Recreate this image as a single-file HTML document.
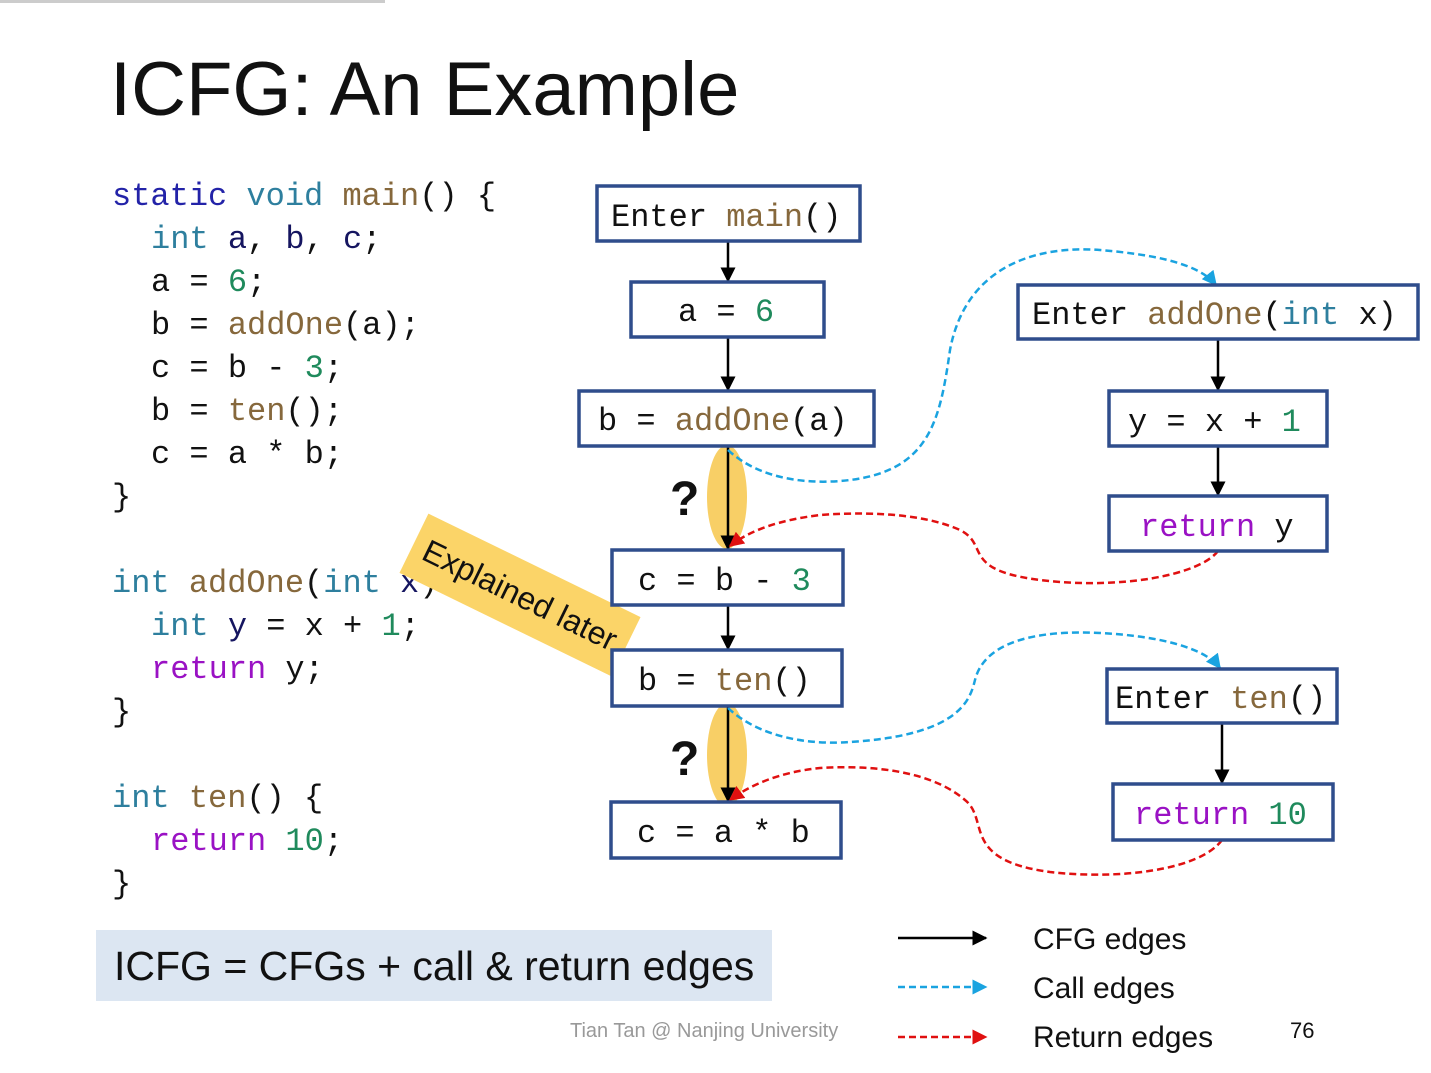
<!DOCTYPE html>
<html><head><meta charset="utf-8"><style>
body{margin:0;background:#fff}
svg{display:block}
.m{font-family:"Liberation Mono","DejaVu Sans Mono",monospace;font-size:32px;fill:#111;white-space:pre}
.kb{fill:#2323a8}.kt{fill:#2e7f9e}.fn{fill:#86683c}.v{fill:#151560}.n{fill:#1f8a5c}.r{fill:#9a12c4}
.s{font-family:"Liberation Sans","DejaVu Sans",sans-serif}
.box{fill:#fff;stroke:#2f4d8c;stroke-width:3.5}
</style></head><body>
<svg width="1431" height="1073" viewBox="0 0 1431 1073" xmlns="http://www.w3.org/2000/svg">
<defs>
<marker id="ak" viewBox="0 0 10 10" refX="9" refY="5" markerWidth="6" markerHeight="6" orient="auto"><path d="M0,0L10,5L0,10z" fill="#000"/></marker>
<marker id="ab" viewBox="0 0 10 10" refX="9" refY="5" markerWidth="6" markerHeight="6" orient="auto"><path d="M0,0L10,5L0,10z" fill="#1aa3e0"/></marker>
<marker id="ar" viewBox="0 0 10 10" refX="9" refY="5" markerWidth="6" markerHeight="6" orient="auto"><path d="M0,0L10,5L0,10z" fill="#e01010"/></marker>
</defs>
<rect x="0" y="0" width="385" height="3" fill="#ccc"/>
<text x="110" y="115" class="s" font-size="76" fill="#111">ICFG: An Example</text>

<g class="m">
<text x="112" y="205"><tspan class="kb">static</tspan> <tspan class="kt">void</tspan> <tspan class="fn">main</tspan>() {</text>
<text x="151" y="248"><tspan class="kt">int</tspan> <tspan class="v">a</tspan>, <tspan class="v">b</tspan>, <tspan class="v">c</tspan>;</text>
<text x="151" y="291">a = <tspan class="n">6</tspan>;</text>
<text x="151" y="334">b = <tspan class="fn">addOne</tspan>(a);</text>
<text x="151" y="377">c = b - <tspan class="n">3</tspan>;</text>
<text x="151" y="420">b = <tspan class="fn">ten</tspan>();</text>
<text x="151" y="463">c = a * b;</text>
<text x="112" y="506">}</text>
<text x="112" y="592"><tspan class="kt">int</tspan> <tspan class="fn">addOne</tspan>(<tspan class="kt">int</tspan> <tspan class="v">x</tspan>) {</text>
<text x="151" y="635"><tspan class="kt">int</tspan> <tspan class="v">y</tspan> = x + <tspan class="n">1</tspan>;</text>
<text x="151" y="678"><tspan class="r">return</tspan> y;</text>
<text x="112" y="721">}</text>
<text x="112" y="807"><tspan class="kt">int</tspan> <tspan class="fn">ten</tspan>() {</text>
<text x="151" y="850"><tspan class="r">return</tspan> <tspan class="n">10</tspan>;</text>
<text x="112" y="893">}</text>
</g>

<g transform="translate(520,595) rotate(26)">
<rect x="-118" y="-33" width="236" height="66" fill="#fbd468"/>
<text x="0" y="11" text-anchor="middle" class="s" font-size="32" fill="#111">Explained later</text>
</g>

<ellipse cx="727" cy="497" rx="20" ry="52" fill="#f8cf66"/>
<ellipse cx="727" cy="755" rx="20" ry="52" fill="#f8cf66"/>
<text x="670" y="515" class="s" font-size="48" font-weight="bold" fill="#111">?</text>
<text x="670" y="775" class="s" font-size="48" font-weight="bold" fill="#111">?</text>

<g stroke="#000" stroke-width="2.5" marker-end="url(#ak)">
<line x1="728" y1="241" x2="728" y2="281"/>
<line x1="728" y1="337" x2="728" y2="390"/>
<line x1="728" y1="446" x2="728" y2="549"/>
<line x1="728" y1="605" x2="728" y2="649"/>
<line x1="728" y1="706" x2="728" y2="801"/>
<line x1="1218" y1="339" x2="1218" y2="390"/>
<line x1="1218" y1="446" x2="1218" y2="495"/>
<line x1="1222" y1="723" x2="1222" y2="783"/>
</g>
<g fill="none" stroke-width="2.5" stroke-dasharray="7,4">
<path d="M728,450 C760,480 810,485 850,480 C930,470 940,420 950,350 C965,270 1030,245 1100,250 C1160,255 1200,265 1216,285" stroke="#1aa3e0" marker-end="url(#ab)"/>
<path d="M1218,551 C1200,575 1120,590 1040,580 C960,570 990,545 960,530 C920,512 860,512 820,515 C780,520 750,530 730,546" stroke="#e01010" marker-end="url(#ar)"/>
<path d="M728,708 C760,738 810,745 850,742 C960,735 970,700 975,680 C985,640 1040,630 1100,633 C1160,636 1205,648 1220,668" stroke="#1aa3e0" marker-end="url(#ab)"/>
<path d="M1222,840 C1200,870 1120,880 1050,872 C960,860 990,820 965,800 C930,770 870,765 820,768 C780,772 750,785 730,800" stroke="#e01010" marker-end="url(#ar)"/>
</g>

<g class="m">
<rect class="box" x="597" y="186" width="263" height="55"/>
<text x="611" y="226">Enter <tspan class="fn">main</tspan>()</text>
<rect class="box" x="631" y="282" width="193" height="55"/>
<text x="678" y="321">a = <tspan class="n">6</tspan></text>
<rect class="box" x="579" y="391" width="295" height="55"/>
<text x="598" y="430">b = <tspan class="fn">addOne</tspan>(a)</text>
<rect class="box" x="612" y="550" width="231" height="55"/>
<text x="638" y="590">c = b - <tspan class="n">3</tspan></text>
<rect class="box" x="612" y="650" width="230" height="56"/>
<text x="638" y="690">b = <tspan class="fn">ten</tspan>()</text>
<rect class="box" x="611" y="802" width="230" height="56"/>
<text x="637" y="842">c = a * b</text>
<rect class="box" x="1018" y="285" width="400" height="54"/>
<text x="1032" y="324">Enter <tspan class="fn">addOne</tspan>(<tspan class="kt">int</tspan> x)</text>
<rect class="box" x="1109" y="391" width="218" height="55"/>
<text x="1128" y="431">y = x + <tspan class="n">1</tspan></text>
<rect class="box" x="1109" y="496" width="218" height="55"/>
<text x="1140" y="536"><tspan class="r">return</tspan> y</text>
<rect class="box" x="1107" y="669" width="230" height="54"/>
<text x="1115" y="708">Enter <tspan class="fn">ten</tspan>()</text>
<rect class="box" x="1113" y="784" width="220" height="56"/>
<text x="1134" y="824"><tspan class="r">return</tspan> <tspan class="n">10</tspan></text>
</g>

<rect x="96" y="930" width="676" height="71" fill="#dce6f2"/>
<text x="114" y="980" class="s" font-size="41" fill="#111">ICFG = CFGs + call &amp; return edges</text>
<text x="570" y="1037" class="s" font-size="20" fill="#999">Tian Tan @ Nanjing University</text>
<line x1="898" y1="938" x2="986" y2="938" stroke="#000" stroke-width="2.5" marker-end="url(#ak)"/>
<line x1="898" y1="987" x2="986" y2="987" stroke="#1aa3e0" stroke-width="2.5" stroke-dasharray="7,4" marker-end="url(#ab)"/>
<line x1="898" y1="1037" x2="986" y2="1037" stroke="#e01010" stroke-width="2.5" stroke-dasharray="7,4" marker-end="url(#ar)"/>
<g class="s" font-size="30" fill="#111">
<text x="1033" y="949">CFG edges</text>
<text x="1033" y="998">Call edges</text>
<text x="1033" y="1047">Return edges</text>
<text x="1290" y="1038" font-size="22">76</text>
</g>
</svg>
</body></html>
